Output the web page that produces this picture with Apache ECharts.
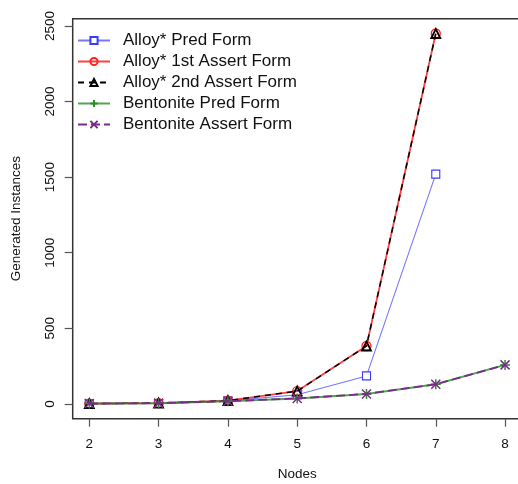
<!DOCTYPE html>
<html>
<head>
<meta charset="utf-8">
<script src="https://cdn.jsdelivr.net/npm/echarts@6/dist/echarts.min.js"></script>
<style>
  html, body { margin: 0; padding: 0; background: #fff; }
  #chart { width: 518px; height: 484px; }
</style>
</head>
<body>
<div id="chart"></div>
<script>
// Number of nodes in each run
var nodes = [2, 3, 4, 5, 6, 7, 8];

// Generated instance counts per encoding
var alloyPred     = [1, 3, 20, 60, 185, 1520, null];
var alloyAssert1  = [2, 5, 22, 85, 383, 2450, null];
var alloyAssert2  = [2, 5, 22, 85, 383, 2450, null];
var bentPred      = [2, 5, 18, 36, 66, 130, 258];
var bentAssert    = [2, 5, 18, 36, 66, 130, 258];

// Tick positions
var xTicks = [2, 3, 4, 5, 6, 7, 8];
var yTicks = [0, 500, 1000, 1500, 2000, 2500];

var FONT = '"Liberation Sans", Arial, Helvetica, sans-serif';

function pairs(vals) {
  var out = [];
  for (var i = 0; i < nodes.length; i++) {
    if (vals[i] !== null) out.push([nodes[i], vals[i]]);
  }
  return out;
}

var plusPath = 'path://M0,5L10,5M5,0L5,10';
var crossPath = 'path://M0,0L10,10M10,0L0,10';

var chart = echarts.init(document.getElementById('chart'), null, { renderer: 'canvas' });

chart.setOption({
  animation: false,
  backgroundColor: '#ffffff',
  grid: {
    left: 72.7, top: 18.7, width: 449, height: 400,
    containLabel: false, outerBoundsMode: 'none',
    show: true, borderColor: '#333', borderWidth: 1.5,
    backgroundColor: 'transparent'
  },
  legend: {
    orient: 'vertical',
    left: 77, top: 32, padding: 0,
    itemWidth: 32, itemHeight: 9, itemGap: 4,
    selectedMode: false,
    textStyle: { fontFamily: FONT, fontSize: 17, color: '#111', padding: [0, 0, 0, 8] },
    data: ['Alloy* Pred Form', 'Alloy* 1st Assert Form', 'Alloy* 2nd Assert Form',
           'Bentonite Pred Form', 'Bentonite Assert Form']
  },
  xAxis: {
    type: 'value', min: 1.76, max: 8.24,
    name: 'Nodes', nameLocation: 'middle', nameGap: 49,
    nameTextStyle: { fontFamily: FONT, fontSize: 13.5, color: '#111' },
    axisLine: { show: false, onZero: false },
    axisTick: { show: true, length: 8, customValues: xTicks, lineStyle: { color: '#555', width: 1.2 } },
    axisLabel: { customValues: xTicks, margin: 19, fontFamily: FONT, fontSize: 13.5, color: '#111' },
    splitLine: { show: false }
  },
  yAxis: {
    type: 'value', min: -98, max: 2548,
    name: 'Generated Instances', nameLocation: 'middle', nameGap: 49, nameRotate: 90,
    nameTextStyle: { fontFamily: FONT, fontSize: 13.5, color: '#111' },
    axisLine: { show: false, onZero: false },
    axisTick: { show: true, length: 8, customValues: yTicks, lineStyle: { color: '#555', width: 1.2 } },
    axisLabel: {
      customValues: yTicks, rotate: 90, margin: 15, fontFamily: FONT, fontSize: 13.5, color: '#111',
      formatter: function (v) { return String(v); }
    },
    splitLine: { show: false }
  },
  series: [
    {
      name: 'Alloy* Pred Form', type: 'line', data: pairs(alloyPred),
      symbol: 'rect', symbolSize: 8,
      lineStyle: { color: 'rgba(60,60,255,0.7)', width: 1.1 },
      itemStyle: { color: '#ffffff', borderColor: '#3a3aff', borderWidth: 1.1 },
      z: 2
    },
    {
      name: 'Alloy* 1st Assert Form', type: 'line', data: pairs(alloyAssert1),
      symbol: 'circle', symbolSize: 9,
      lineStyle: { color: 'rgba(255,30,30,0.85)', width: 1.8 },
      itemStyle: { color: 'rgba(255,255,255,0)', borderColor: '#ff2020', borderWidth: 1.3 },
      z: 3
    },
    {
      name: 'Alloy* 2nd Assert Form', type: 'line', data: pairs(alloyAssert2),
      symbol: 'triangle', symbolSize: 9,
      lineStyle: { color: '#000000', width: 1.5, type: [6, 5] },
      itemStyle: { color: 'rgba(255,255,255,0)', borderColor: '#000000', borderWidth: 1.8 },
      z: 4
    },
    {
      name: 'Bentonite Pred Form', type: 'line', data: pairs(bentPred),
      symbol: plusPath, symbolSize: 10,
      lineStyle: { color: 'rgba(50,150,50,0.85)', width: 2 },
      itemStyle: { color: 'rgba(0,0,0,0)', borderColor: '#2e8b2e', borderWidth: 1.5 },
      z: 5
    },
    {
      name: 'Bentonite Assert Form', type: 'line', data: pairs(bentAssert),
      symbol: crossPath, symbolSize: 9,
      lineStyle: { color: '#7a2a8c', width: 1.8, type: [9, 4] },
      itemStyle: { color: 'rgba(0,0,0,0)', borderColor: '#7a2a8c', borderWidth: 1.5 },
      z: 6
    }
  ]
});
</script>
</body>
</html>
